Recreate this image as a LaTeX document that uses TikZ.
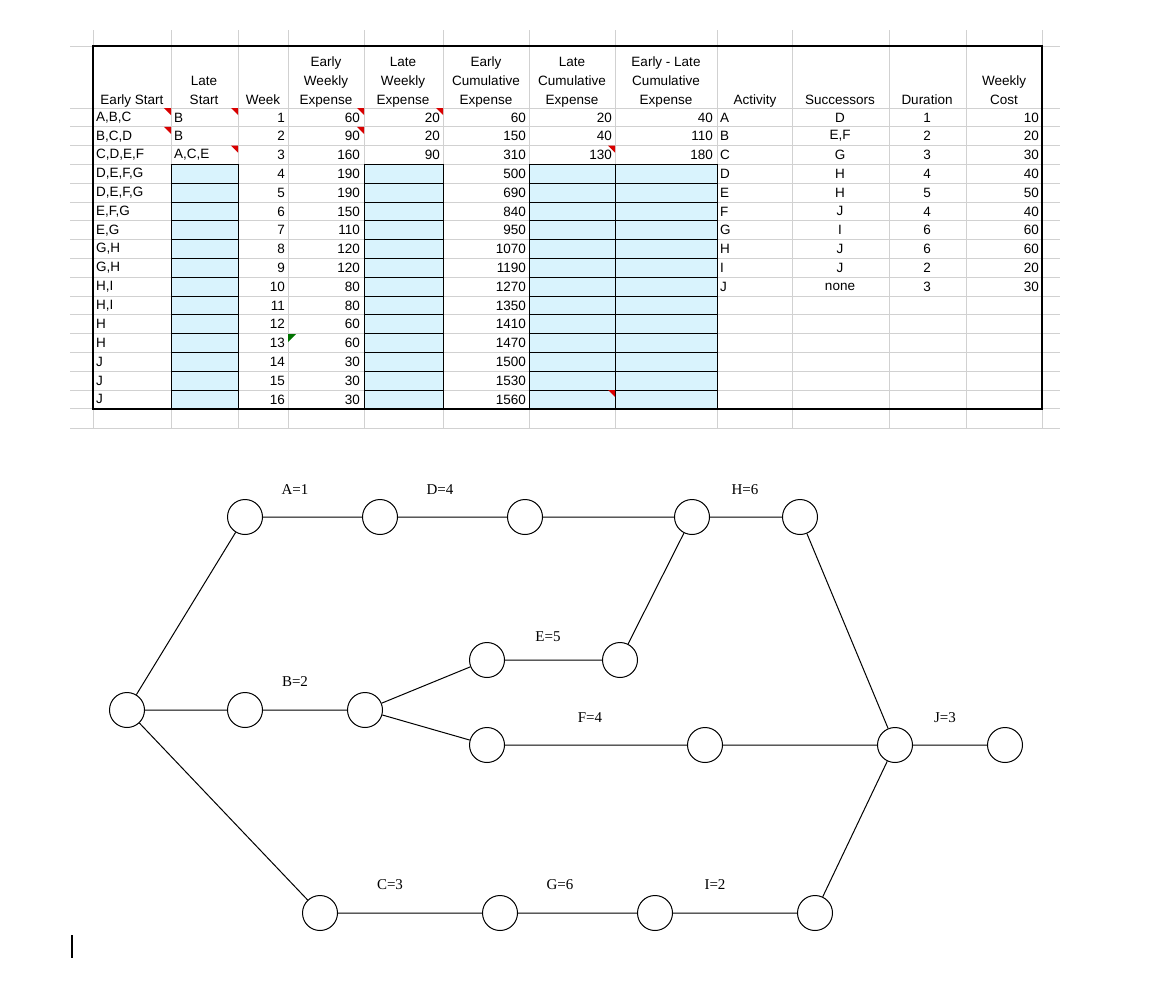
\documentclass[tikz,border=0pt]{standalone}
\usepackage{fontspec}
\setmainfont{Liberation Serif}
\setsansfont{Liberation Sans}
\begin{document}
\begin{tikzpicture}[x=1pt,y=-1pt,
  cell/.style={font=\sffamily\fontsize{13.5}{19}\selectfont,inner sep=0pt},
  hd/.style={cell,align=center,anchor=south,text depth=3pt},
  ev/.style={circle,draw,line width=1pt,minimum size=35pt,inner sep=0pt},
  lab/.style={font=\fontsize{15}{17}\selectfont,inner sep=1pt},
  grid/.style={draw=black!18,line width=0.8pt},
  redmark/.style={fill=red!85!black}]
\useasboundingbox (0,0) rectangle (1174,980);
% light grid
\foreach \x in {93,171,238,288,364,443,529,615,717,792,889,966,1042}
  \draw[grid] (\x,30) -- (\x,428);
\draw[grid] (70,46) -- (1060,46);
\foreach \i in {0,...,16} \draw[grid] (70,108+18.8*\i) -- (1060,108+18.8*\i);
\draw[grid] (70,428) -- (1060,428);
% cyan cells
\foreach \a/\b in {171/238,364/443,529/615,615/717}
  \foreach \i in {3,...,15}
    \draw[fill=cyan!15,line width=1pt] (\a,108+18.8*\i) rectangle (\b,108+18.8*\i+18.8);
\draw[line width=2.2pt] (93,46) rectangle (1042,409);
% headers
\node[hd] (hd1) at (132,108) {Early Start};
\node[hd] (hd2) at (204,108) {Late\\Start};
\node[hd] (hd3) at (263,108) {Week};
\node[hd] (hd4) at (326,108) {Early\\Weekly\\Expense};
\node[hd] (hd5) at (403,108) {Late\\Weekly\\Expense};
\node[hd] (hd6) at (486,108) {Early\\Cumulative\\Expense};
\node[hd] (hd7) at (572,108) {Late\\Cumulative\\Expense};
\node[hd] (hd8) at (666,108) {Early - Late\\Cumulative\\Expense};
\node[hd] (hd9) at (755,108) {Activity};
\node[hd] (hd10) at (840,108) {Successors};
\node[hd] (hd11) at (927,108) {Duration};
\node[hd] (hd12) at (1004,108) {Weekly\\Cost};
% column 1
\foreach \t [count=\i] in {{A,B,C},{B,C,D},{C,D,E,F},{D,E,F,G},{D,E,F,G},{E,F,G},{E,G},{G,H},{G,H},{H,I},{H,I},H,H,J,J,J}
  \node[cell,anchor=west] (es\i) at (96,108+18.8*\i-9.4) {\t};
\foreach \t [count=\i] in {B,B,{A,C,E}}
  \node[cell,anchor=west] (ls\i) at (174,108+18.8*\i-9.4) {\t};
\foreach \t [count=\i] in {60,90,160,190,190,150,110,120,120,80,80,60,60,30,30,30}{
  \node[cell,anchor=east] (wk\i) at (285,108+18.8*\i-9.4) {\i};
  \node[cell,anchor=east] (ew\i) at (360,108+18.8*\i-9.4) {\t};}
\foreach \t [count=\i] in {20,20,90}
  \node[cell,anchor=east] (lw\i) at (440,108+18.8*\i-9.4) {\t};
\foreach \t [count=\i] in {60,150,310,500,690,840,950,1070,1190,1270,1350,1410,1470,1500,1530,1560}
  \node[cell,anchor=east] (ec\i) at (526,108+18.8*\i-9.4) {\t};
\foreach \t/\u [count=\i] in {20/40,40/110,130/180}{
  \node[cell,anchor=east] (lc\i) at (612,108+18.8*\i-9.4) {\t};
  \node[cell,anchor=east] (el\i) at (713,108+18.8*\i-9.4) {\u};}
\foreach \a/\s/\d/\c [count=\i] in {A/D/1/10,B/{E,F}/2/20,C/G/3/30,D/H/4/40,E/H/5/50,F/J/4/40,G/I/6/60,H/J/6/60,I/J/2/20,J/none/3/30}{
  \node[cell,anchor=west] (ac\i) at (720,108+18.8*\i-9.4) {\a};
  \node[cell] (su\i) at (840,108+18.8*\i-9.4) {\s};
  \node[cell] (du\i) at (927,108+18.8*\i-9.4) {\d};
  \node[cell,anchor=east] (co\i) at (1039,108+18.8*\i-9.4) {\c};}
% comment markers
\foreach \x/\i in {171/0,171/1,238/0,238/2,364/0,364/1,443/0,615/2,615/15}
  \fill[redmark] (\x-7,108+18.8*\i) -- (\x,108+18.8*\i) -- (\x,108+18.8*\i+7) -- cycle;
\fill[green!45!black] (288,334) -- (296,334) -- (288,342) -- cycle;
% network
\node[ev] (s) at (127,710) {};
\node[ev] (a1) at (245,517) {};
\node[ev] (a2) at (380,517) {};
\node[ev] (d2) at (525,517) {};
\node[ev] (nh0) at (692,517) {};
\node[ev] (nh2) at (800,517) {};
\node[ev] (b1) at (245,710) {};
\node[ev] (b2) at (365,710) {};
\node[ev] (e1) at (487,660) {};
\node[ev] (e2) at (620,660) {};
\node[ev] (f1) at (487,745) {};
\node[ev] (f2) at (705,745) {};
\node[ev] (j1) at (895,745) {};
\node[ev] (j2) at (1005,745) {};
\node[ev] (c1) at (320,913) {};
\node[ev] (c2) at (500,913) {};
\node[ev] (g2) at (655,913) {};
\node[ev] (i2) at (815,913) {};
\draw[line width=1pt] (s)--(a1) (s)--(b1) (s)--(c1) (a1)--(a2) (a2)--(d2) (d2)--(nh0) (nh0)--(nh2)
  (b1)--(b2) (b2)--(e1) (b2)--(f1) (e1)--(e2) (e2)--(nh0) (f1)--(f2) (f2)--(j1)
  (nh2)--(j1) (j1)--(j2) (c1)--(c2) (c2)--(g2) (g2)--(i2) (i2)--(j1);
\node[lab] (lA) at (295,490) {A=1};
\node[lab] (lD) at (440,490) {D=4};
\node[lab] (lH) at (745,490) {H=6};
\node[lab] (lB) at (295,682) {B=2};
\node[lab] (lE) at (548,637) {E=5};
\node[lab] (lF) at (590,718) {F=4};
\node[lab] (lJ) at (945,718) {J=3};
\node[lab] (lC) at (390,885) {C=3};
\node[lab] (lG) at (560,885) {G=6};
\node[lab] (lI) at (715,885) {I=2};
\draw[line width=1.5pt] (72,935) -- (72,958);
\end{tikzpicture}
\end{document}
